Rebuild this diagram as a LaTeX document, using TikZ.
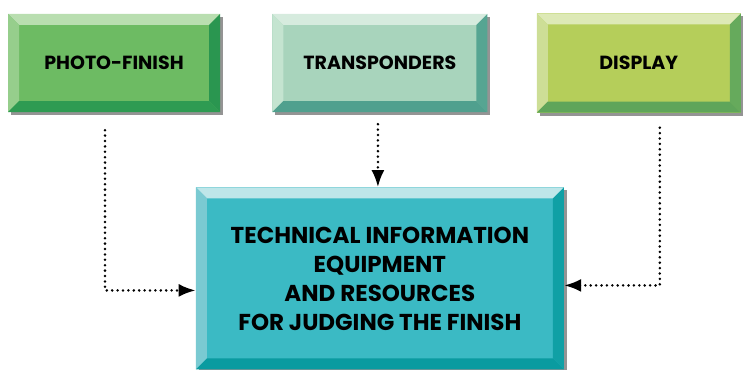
\documentclass[tikz,border=0pt]{standalone}
\usepackage{fontspec}
\setmainfont{Poppins}
\usetikzlibrary{arrows.meta, positioning, shadows}
\definecolor{photoFace}{RGB}{109, 187, 99}
\definecolor{photoTop}{RGB}{185, 222, 176}
\definecolor{photoLeft}{RGB}{150, 206, 140}
\definecolor{photoBottom}{RGB}{46, 155, 82}
\definecolor{photoRight}{RGB}{42, 150, 80}
\definecolor{transFace}{RGB}{168, 212, 188}
\definecolor{transTop}{RGB}{214, 235, 222}
\definecolor{transLeft}{RGB}{196, 228, 208}
\definecolor{transBottom}{RGB}{80, 160, 142}
\definecolor{transRight}{RGB}{86, 165, 146}
\definecolor{dispFace}{RGB}{181, 206, 90}
\definecolor{dispTop}{RGB}{221, 233, 182}
\definecolor{dispLeft}{RGB}{205, 222, 150}
\definecolor{dispBottom}{RGB}{95, 165, 90}
\definecolor{dispRight}{RGB}{102, 170, 92}
\definecolor{judgeFace}{RGB}{59, 186, 196}
\definecolor{judgeTop}{RGB}{190, 230, 233}
\definecolor{judgeLeft}{RGB}{122, 202, 210}
\definecolor{judgeBottom}{RGB}{10, 155, 160}
\definecolor{judgeRight}{RGB}{16, 160, 165}
\newcommand{\bevelsize}{11pt}
\tikzset{
  PanelBase/.style = {rectangle, align=center, inner sep=0pt, text=black,
                      font=\fontsize{19}{23}\selectfont\bfseries,
                      drop shadow={shadow xshift=3pt, shadow yshift=-3pt,
                                   fill=black!42, opacity=1}},
  Panel/.style     = {PanelBase, fill=#1Face, path picture={
      \fill[#1Top] (path picture bounding box.north west) -- (path picture bounding box.north east)
        -- ([shift={(-\bevelsize,-\bevelsize)}]path picture bounding box.north east)
        -- ([shift={(\bevelsize,-\bevelsize)}]path picture bounding box.north west) -- cycle;
      \fill[#1Left] (path picture bounding box.north west) -- (path picture bounding box.south west)
        -- ([shift={(\bevelsize,\bevelsize)}]path picture bounding box.south west)
        -- ([shift={(\bevelsize,-\bevelsize)}]path picture bounding box.north west) -- cycle;
      \fill[#1Bottom] (path picture bounding box.south west) -- (path picture bounding box.south east)
        -- ([shift={(-\bevelsize,\bevelsize)}]path picture bounding box.south east)
        -- ([shift={(\bevelsize,\bevelsize)}]path picture bounding box.south west) -- cycle;
      \fill[#1Right] (path picture bounding box.north east) -- (path picture bounding box.south east)
        -- ([shift={(-\bevelsize,\bevelsize)}]path picture bounding box.south east)
        -- ([shift={(-\bevelsize,-\bevelsize)}]path picture bounding box.north east) -- cycle;
    }},
  Link/.style      = {line width=2.8pt, line cap=round, dash pattern=on 0pt off 5.4pt,
                      -{Latex[length=17pt, width=13pt]}},
}
\begin{document}
\begin{tikzpicture}[x=1pt, y=-1pt]
  \useasboundingbox (0,0) rectangle (743,369);
  \node[Panel=photo, minimum width=212pt, minimum height=98pt] (photo) at (114,63) {PHOTO-FINISH};
  \node[Panel=trans, minimum width=215pt, minimum height=98pt, right=52pt of photo] (trans) {TRANSPONDERS};
  \node[Panel=disp,  minimum width=204pt, minimum height=99pt, right=49pt of trans] (disp) {DISPLAY};
  \node[Panel=judge, minimum width=368pt, minimum height=182pt, below=75pt of trans,
        font=\fontsize{23}{29}\selectfont\bfseries] (judge)
        {TECHNICAL INFORMATION\\EQUIPMENT\\AND RESOURCES\\FOR JUDGING THE FINISH};
  \draw[Link] ([xshift=-9pt, yshift=-18pt]photo.south) |- ([yshift=-12pt]judge.west);
  \draw[Link] ([xshift=-2pt, yshift=-12pt]trans.south) -- ([xshift=-2pt]judge.north);
  \draw[Link] ([xshift=21pt, yshift=-15pt]disp.south) |- ([yshift=-7pt]judge.east);
\end{tikzpicture}
\end{document}
